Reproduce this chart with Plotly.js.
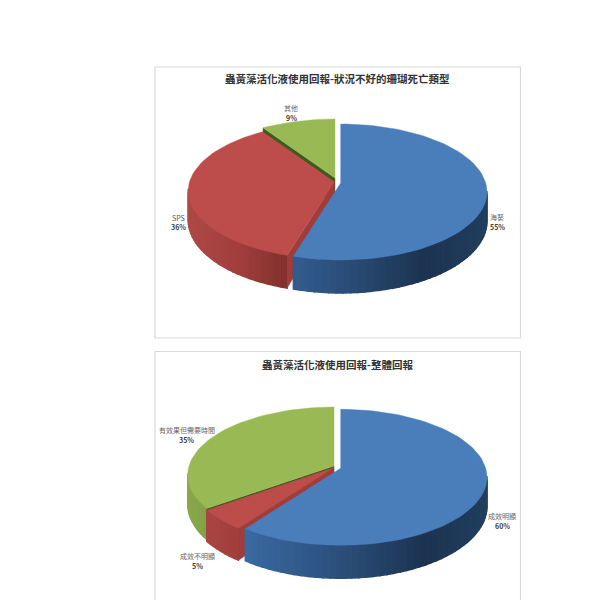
<!DOCTYPE html>
<html>
<head>
<meta charset="utf-8">
<script src="https://cdn.plot.ly/plotly-3.0.1.min.js"></script>
<style>html,body{margin:0;padding:0;background:#fff}#c{width:600px;height:600px}</style>
</head>
<body>
<div id="c"></div>
<script>
// ---- data ----
const titleA = "蟲黃藻活化液使用回報-狀況不好的珊瑚死亡類型";
const labelsA = ["海葵", "SPS", "其他"];
const valuesA = [54.6, 36.1, 9.3];
const titleB = "蟲黃藻活化液使用回報-整體回報";
const labelsB = ["成效明顯", "成效不明顯", "有效果但需要時間"];
const valuesB = [60, 5, 35];

// ---- styles & geometry ----
const FONT = '"Noto Sans CJK TC","Noto Sans",sans-serif';
const RX = 145, RY = 66.8, K = 0.1325, H = 28.6;
const TOP = ['#4a7ebb', '#bd4d4a', '#98b954'];
const FACE = [null, '#a03c39', '#3f5a1c'];
const WALL = [
  [[-1, '#3f74b0'], [-0.6, '#3a6ba3'], [0, '#2b4f7a'], [0.5, '#1c3351'], [1, '#22405f']],
  [[-1, '#b04a47'], [-0.6, '#a23f3c'], [-0.25, '#7e2e2c'], [1, '#7e2e2c']],
  [[-1, '#8aa94c'], [-0.7, '#7f9e44'], [1, '#7f9e44']]
];
function hex(c) { return [1, 3, 5].map(i => parseInt(c.substr(i, 2), 16)); }
function shade(stops, u) {
  for (let i = 1; i < stops.length; i++) {
    if (u <= stops[i][0]) {
      const t = Math.max(0, (u - stops[i - 1][0]) / (stops[i][0] - stops[i - 1][0]));
      const a = hex(stops[i - 1][1]), b = hex(stops[i][1]);
      return 'rgb(' + a.map((v, j) => Math.round(v + (b[j] - v) * t)).join(',') + ')';
    }
  }
  return stops[stops.length - 1][1];
}
// perspective projection of a point on the pie's rim; deg is clockwise from the top
function rim(ap, deg, r) {
  const a = deg * Math.PI / 180, u = Math.sin(a) * r, v = -Math.cos(a) * r;
  const s = 1 / (1 - K * v);
  return { x: ap[0] + RX * u * s, y: ap[1] + RY * v * s, h: H * s, u: u, v: v };
}
function poly(pts, color, w) {
  const xs = pts.map(p => p[0]), ys = pts.map(p => p[1]);
  xs.push(xs[0]); ys.push(ys[0]);
  return {
    x: xs, y: ys, mode: 'lines', fill: 'toself', fillcolor: color,
    line: { color: color, width: w }, hoverinfo: 'skip', showlegend: false
  };
}
function pieTraces(values, apexes, order) {
  const total = values.reduce((a, b) => a + b, 0);
  let start = 0;
  const spans = values.map(v => { const s = [start, start + v / total * 360]; start = s[1]; return s; });
  const out = [];
  order.forEach(i => {
    const [a0, a1] = spans[i], ap = apexes[i];
    const segs = Math.ceil((a1 - a0) / 2.5);
    const rimPts = [];
    for (let k = 0; k <= segs; k++) rimPts.push(rim(ap, a0 + (a1 - a0) * k / segs, 1));
    // outer wall, drawn as shaded strips; strips on the far side are hidden
    for (let k = 0; k < segs; k++) {
      const p = rimPts[k], q = rimPts[k + 1];
      if (Math.max(p.v, q.v) < K) continue;
      out.push(poly([[p.x, p.y], [q.x, q.y], [q.x, q.y + q.h], [p.x, p.y + p.h]], shade(WALL[i], (p.u + q.u) / 2), 1.4));
    }
    // cut face that looks toward the viewer
    if (FACE[i]) {
      const e = rimPts[0];
      out.push(poly([[ap[0], ap[1]], [e.x, e.y], [e.x, e.y + e.h], [ap[0], ap[1] + H]], FACE[i], 0.4));
    }
    // top face
    out.push(poly([[ap[0], ap[1]]].concat(rimPts.map(p => [p.x, p.y])), TOP[i], 0.4));
  });
  return out;
}
const traces = []
  .concat(pieTraces(valuesA, [[340.7, 183], [334.5, 182], [335, 178]], [2, 1, 0]))
  .concat(pieTraces(valuesB, [[340.7, 468.3], [334, 467.7], [334, 466]], [2, 1, 0]));

function note(text, x, y, size, color, bold) {
  return {
    text: bold ? '<b>' + text + '</b>' : text, x: x, y: y, xref: 'x', yref: 'y', showarrow: false,
    xanchor: 'center', yanchor: 'middle', font: { family: FONT, size: size, color: color }
  };
}
function pct(v) { return Math.round(v) + '%'; }
const annotations = [
  note(titleA, 337, 78, 10.5, '#333333', true),
  note(titleB, 337, 364, 10.5, '#333333', true),
  note(labelsA[0], 497, 217, 7, '#666666'), note(pct(valuesA[0]), 497, 227, 7, '#404040', true),
  note(labelsA[1], 178.7, 218, 7, '#555555'), note(pct(valuesA[1]), 178.7, 227, 7, '#404040', true),
  note(labelsA[2], 291, 108, 7, '#666666'), note(pct(valuesA[2]), 291, 118, 7, '#404040', true),
  note(labelsB[0], 502, 516, 7, '#666666'), note(pct(valuesB[0]), 502, 526, 7, '#404040', true),
  note(labelsB[1], 197, 556, 7, '#666666'), note(pct(valuesB[1]), 197, 566, 7, '#404040', true),
  note(labelsB[2], 186.7, 429.7, 7, '#666666'), note(pct(valuesB[2]), 186.7, 439.7, 7, '#404040', true)
];
const frame = { color: '#d9d9d9', width: 1.2 };
const shapes = [
  { type: 'rect', xref: 'x', yref: 'y', x0: 155, x1: 520.5, y0: 67, y1: 338, line: frame, layer: 'below' },
  { type: 'rect', xref: 'x', yref: 'y', x0: 155, x1: 520.5, y0: 351.5, y1: 640, line: frame, layer: 'below' }
];
const axis = { visible: false, showgrid: false, zeroline: false, fixedrange: true };
Plotly.newPlot('c', traces, {
  width: 600, height: 600, margin: { l: 0, r: 0, t: 0, b: 0 },
  paper_bgcolor: '#fff', plot_bgcolor: '#fff', showlegend: false,
  xaxis: Object.assign({ range: [0, 600] }, axis),
  yaxis: Object.assign({ range: [600, 0] }, axis),
  annotations: annotations, shapes: shapes
}, { displayModeBar: false, staticPlot: true });
</script>
</body>
</html>
